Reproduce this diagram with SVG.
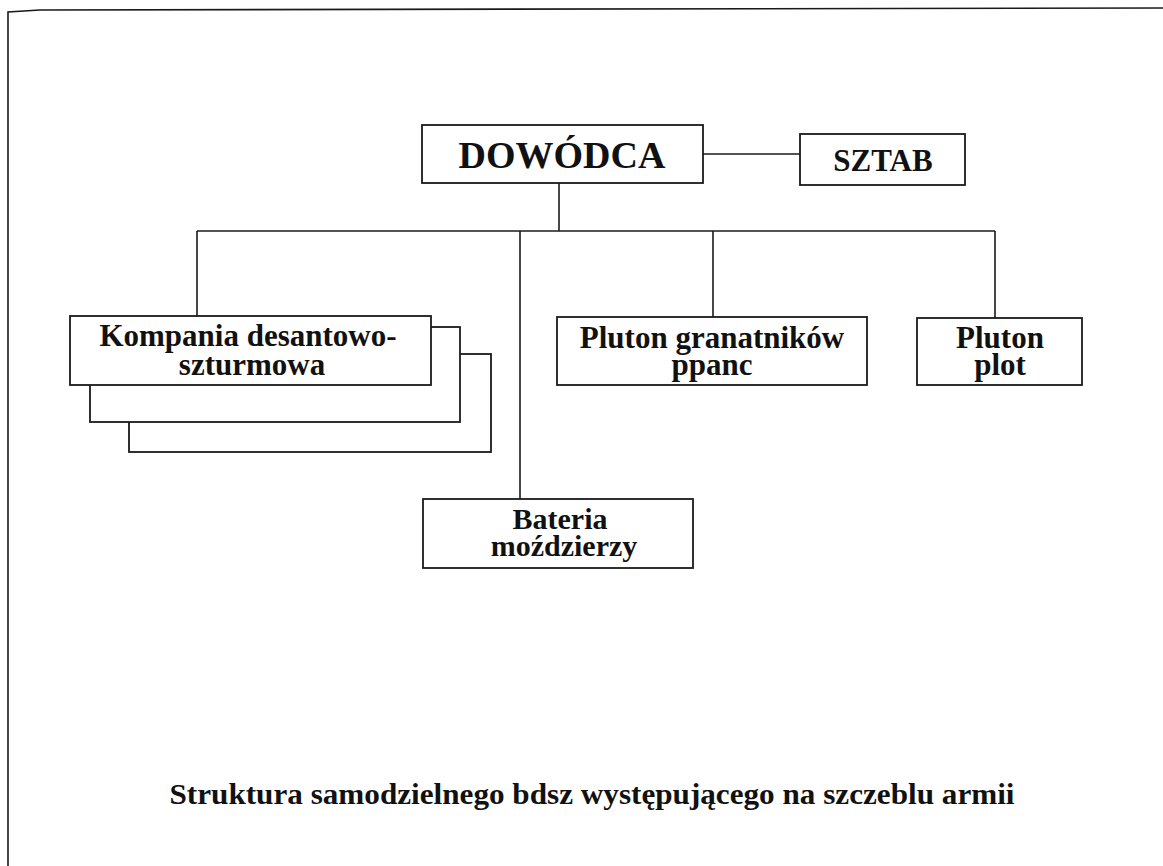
<svg xmlns="http://www.w3.org/2000/svg" width="1163" height="866" viewBox="0 0 1163 866">
<style>
.box{fill:#fff;stroke:#1a1a1a;stroke-width:1.8}
.ln{fill:none;stroke:#1a1a1a;stroke-width:1.6}
.t{font-family:"Liberation Serif","Times New Roman",serif;font-weight:bold;fill:#111;text-anchor:middle}
</style>
<rect width="1163" height="866" fill="#fff"/>
<g id="frame">
<polyline class="ln" points="8,866 8,12 40,10 1163,8"/>
</g>
<g id="connectors">
<line class="ln" x1="703" y1="154" x2="800" y2="154"/>
<line class="ln" x1="559" y1="183" x2="559" y2="231"/>
<line class="ln" x1="197" y1="231" x2="995" y2="231"/>
<line class="ln" x1="197" y1="231" x2="197" y2="316"/>
<line class="ln" x1="520" y1="231" x2="520" y2="499"/>
<line class="ln" x1="713" y1="231" x2="713" y2="317"/>
<line class="ln" x1="995" y1="231" x2="995" y2="318"/>
</g>
<g id="dowodca">
<rect class="box" x="422" y="125" width="281" height="58"/>
<text class="t" x="562" y="168" font-size="38">DOWÓDCA</text>
</g>
<g id="sztab">
<rect class="box" x="800" y="134" width="165" height="51"/>
<text class="t" x="883" y="171" font-size="31">SZTAB</text>
</g>
<g id="kompania">
<rect class="box" x="129" y="354" width="362" height="98"/>
<rect class="box" x="90" y="327" width="370" height="95"/>
<rect class="box" x="70" y="316" width="361" height="69"/>
<text class="t" x="248" y="346" font-size="31">Kompania desantowo-</text>
<text class="t" x="252" y="375" font-size="31">szturmowa</text>
</g>
<g id="pluton-granatnikow">
<rect class="box" x="557" y="317" width="310" height="68"/>
<text class="t" x="712" y="348" font-size="31">Pluton granatników</text>
<text class="t" x="712" y="375" font-size="31">ppanc</text>
</g>
<g id="pluton-plot">
<rect class="box" x="917" y="318" width="165" height="67"/>
<text class="t" x="1000" y="348" font-size="31">Pluton</text>
<text class="t" x="1000" y="375" font-size="31">plot</text>
</g>
<g id="bateria">
<rect class="box" x="423" y="499" width="270" height="69"/>
<text class="t" x="560" y="529" font-size="30">Bateria</text>
<text class="t" x="564" y="556" font-size="30">moździerzy</text>
</g>
<g id="caption">
<text class="t" x="592" y="804" font-size="30" textLength="845" lengthAdjust="spacingAndGlyphs">Struktura samodzielnego bdsz występującego na szczeblu armii</text>
</g>
</svg>
